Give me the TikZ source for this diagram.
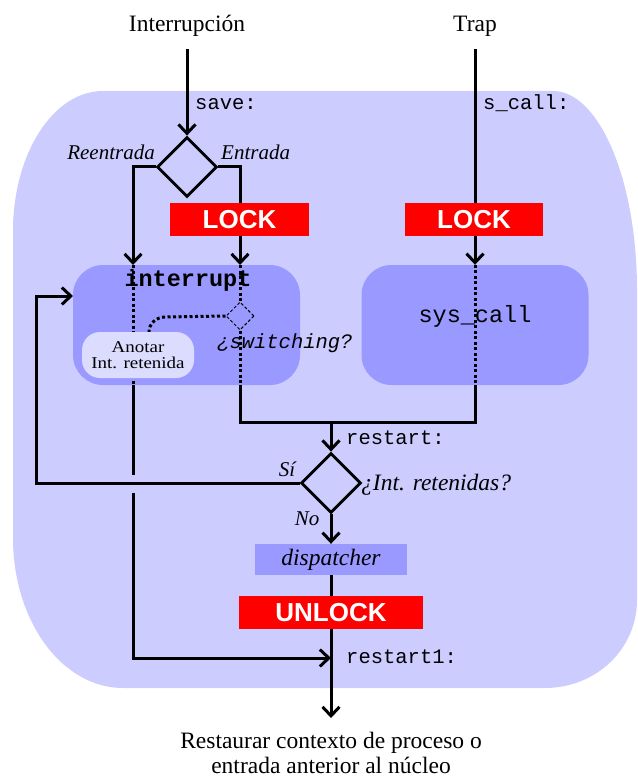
\documentclass[tikz,border=0pt]{standalone}
\usepackage{fontspec}
\setmainfont{Liberation Serif}
\setmonofont{Liberation Mono}
\newfontfamily\arialfam{Liberation Sans}
\newfontfamily\notefont[FakeStretch=1.15]{Liberation Serif}
\usetikzlibrary{shapes.geometric,arrows.meta}
\pgfdeclarelayer{bglayer}
\pgfdeclarelayer{linelayer}
\pgfsetlayers{bglayer,linelayer,main}
\definecolor{bgblue}{HTML}{CCCCFF}
\definecolor{boxblue}{HTML}{9999FF}
\definecolor{notebg}{HTML}{DCDCFF}
\definecolor{lockred}{HTML}{FF0000}
\tikzset{
  flow/.style={line width=3pt},
  arr/.style={line width=3pt, -{Straight Barb[length=9pt,width=17pt]}},
  dotl/.style={line width=3pt, dash pattern=on 3pt off 2.5pt},
  lockbox/.style={rectangle, fill=lockred, draw=none, text=white, inner sep=0pt,
    font=\arialfam\bfseries\fontsize{26}{26}\selectfont},
  decision/.style={diamond, draw, line width=2.8pt, fill=bgblue, minimum width=60pt,
    minimum height=60pt, inner sep=0pt},
  procbox/.style={rectangle, rounded corners=30pt, fill=boxblue, draw=none,
    minimum width=227pt, minimum height=120pt, inner sep=0pt},
  serif/.style={inner sep=0pt, font=\fontsize{23.5}{25}\selectfont},
  lab/.style={inner sep=0pt, font=\fontsize{21}{21}\selectfont\itshape},
  biglab/.style={inner sep=0pt, font=\fontsize{23.5}{23.5}\selectfont\itshape},
  mono/.style={inner sep=0pt, font=\ttfamily\fontsize{20.5}{20.5}\selectfont},
}
\begin{document}
\begin{tikzpicture}[x=1pt,y=-1pt]
\useasboundingbox (0,0) rectangle (637,778);
\begin{pgfonlayer}{bglayer}
\fill[bgblue] (13,231) .. controls (13,154) and (53,91) .. (103,91) -- (553,91)
  .. controls (599,91) and (637,180) .. (637,290) -- (637,600)
  .. controls (637,649) and (596,688) .. (545,688) -- (123,688)
  .. controls (62,688) and (13,621) .. (13,538) -- cycle;
\node[procbox] (intbox) at (186.5,325) {};
\node[procbox] (sysbox) at (475,325) {};
\end{pgfonlayer}

% texts
\node[serif, anchor=base] (intr) at (187,32) {Interrupción};
\node[serif, anchor=base] (trap) at (475,32) {Trap};
\node[mono, anchor=base west] (savel) at (195,110) {save:};
\node[mono, anchor=base west] (scalll) at (483,110) {s\_call:};
\node[lab, anchor=base east] (reent) at (155,160) {Reentrada};
\node[lab, anchor=base west] (ent) at (221,160) {Entrada};

% nodes
\node[decision] (d1) at (187,167) {};
\node[lockbox, minimum width=139pt, minimum height=33pt] (lock1) at (239.5,219.5) {LOCK};
\node[lockbox, minimum width=138pt, minimum height=33pt] (lock2) at (474,219.5) {LOCK};
\node[inner sep=0pt, anchor=base, font=\ttfamily\bfseries\fontsize{23.5}{23.5}\selectfont] (intt) at (188,286) {interrupt};
\node[inner sep=0pt, anchor=base, font=\ttfamily\fontsize{23.5}{23.5}\selectfont] (syst) at (475,322) {sys\_call};
\node[rectangle, rounded corners=18pt, fill=notebg, minimum width=112pt, minimum height=46pt,
  inner sep=0pt, align=center, font=\notefont\fontsize{16.5}{16.5}\selectfont] (anot) at (138,355) {Anotar\\Int. retenida};
\node[diamond, draw, line width=1pt, dash pattern=on 3pt off 2pt, fill=boxblue,
  minimum width=28pt, minimum height=28pt, inner sep=0pt] (sw) at (240,316) {};
\node[inner sep=0pt, anchor=base west, font=\ttfamily\itshape\fontsize{20.5}{20.5}\selectfont] (swt) at (217,348) {¿switching?};
\node[mono, anchor=base west] (rst) at (346,444) {restart:};
\node[decision] (d2) at (331,483) {};
\node[lab, anchor=base] (si) at (287,476) {Sí};
\node[lab, anchor=base] (no) at (307,525) {No};
\node[biglab, anchor=base west] (intret) at (361,490) {¿Int. retenidas?};
\node[rectangle, fill=boxblue, minimum width=152pt, minimum height=31pt, inner sep=0pt,
  font=\fontsize{23.5}{23.5}\selectfont\itshape] (disp) at (331,559.5) {dispatcher};
\node[lockbox, minimum width=184pt, minimum height=33pt] (unlock) at (331,612.5) {UNLOCK};
\node[mono, anchor=base west] (rst1) at (346,663) {restart1:};
\node[serif, align=center, anchor=base] (rest) at (331,773) {Restaurar contexto de proceso o\\entrada anterior al núcleo};

% coordinates
\coordinate (intrtop) at (187,49);
\coordinate (traptop) at (475,49);
\coordinate (inL) at (133,265);
\coordinate (inR) at (240,265);
\coordinate (outL) at (133,385);
\coordinate (outR) at (240,385);
\coordinate (gapT) at (133,475);
\coordinate (gapB) at (133,493);
\coordinate (r1) at (331,658);
\coordinate (j2) at (475,422);
\coordinate (jm) at (331,422);
\coordinate (lc) at (36,296);
\coordinate (loopin) at (73,296);
\coordinate (fin) at (331,718);
\coordinate (bend) at (165,317);
\coordinate (anin) at (149,332);

\begin{pgfonlayer}{linelayer}
\draw[arr] (intrtop) -- (d1.north);
\draw[arr] (traptop) -- (sysbox.north);
\draw[arr] (d1.west) -| (inL);
\draw[arr] (d1.east) -| (inR);
\draw[dotl] (inL) -- (outL);
\draw[dotl] (inR) -- (sw.north);
\draw[dotl] (sw.south) -- (outR);
\draw[dotl] (sysbox.north) -- (sysbox.south);
\draw[dotl] (sw.west) -- (bend) to[out=180,in=90] (anin);
\draw[flow] (outL) -- (gapT);
\draw[arr] (gapB) |- (r1);
\draw[flow] (outR) |- (j2) -- (sysbox.south);
\draw[arr] (jm) -- (d2.north);
\draw[arr] (d2.west) -| (lc) -- (loopin);
\draw[arr] (d2.south) -- (disp.north);
\draw[arr] (disp.south) -- (fin);
\end{pgfonlayer}
\end{tikzpicture}
\end{document}
